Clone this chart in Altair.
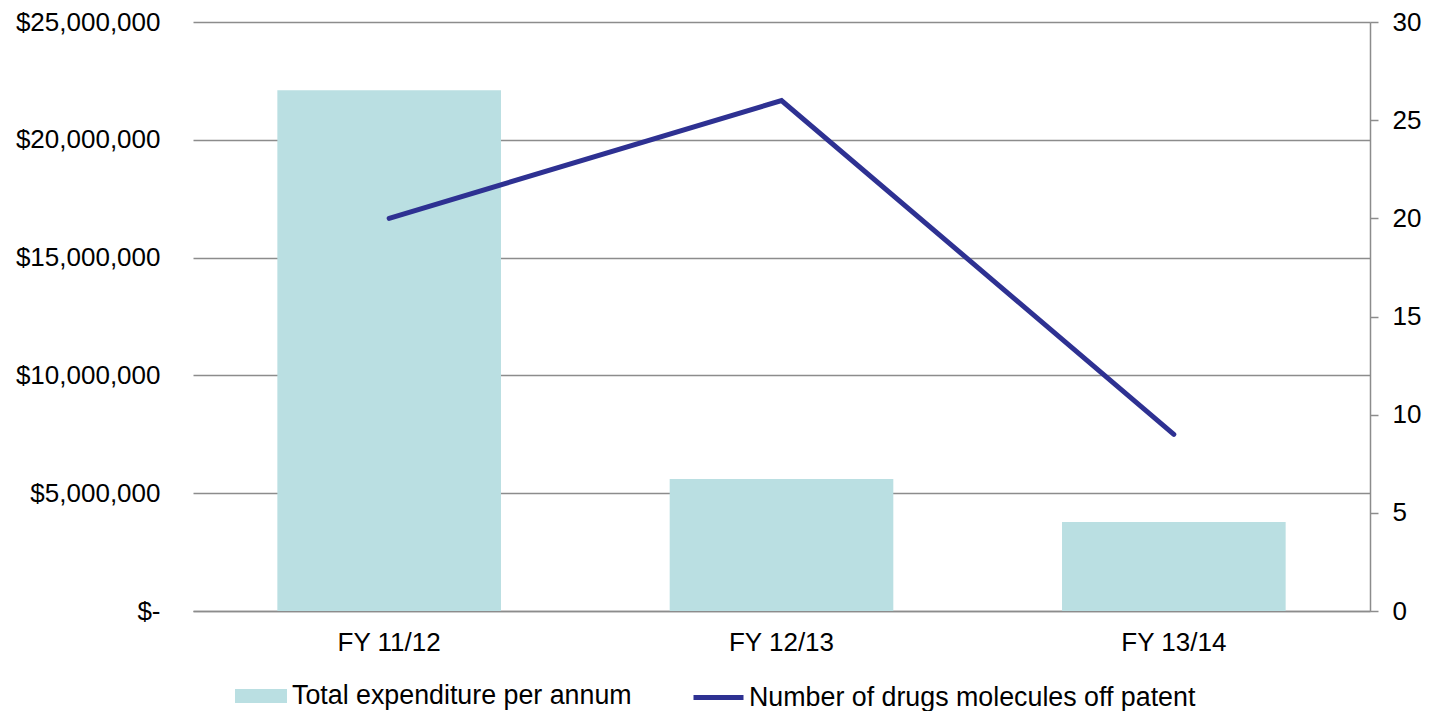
import altair as alt
import pandas as pd

years = ["FY 11/12", "FY 12/13", "FY 13/14"]
expenditure = [22100000, 5600000, 3780000]
molecules = [20, 26, 9]

bar_label = "Total expenditure per annum"
line_label = "Number of drugs molecules off patent"

df = pd.DataFrame({
    "year": years,
    "expenditure": expenditure,
    "molecules": molecules,
    "bar_series": [bar_label] * 3,
    "line_series": [line_label] * 3,
})

FONT = "Liberation Sans"
FS = 26
LEG_FS = 26.8
GRID = "#8c8c8c"
BAR_COLOR = "#badfe2"
LINE_COLOR = "#2e3192"

x_enc = alt.X(
    "year:N",
    sort=years,
    title=None,
    scale=alt.Scale(paddingInner=0.43, paddingOuter=0.215),
    axis=alt.Axis(
        labelAngle=0, ticks=False, domain=True, domainColor=GRID, domainWidth=1.5,
        labelPadding=18, labelFontSize=FS, labelFont=FONT, labelColor="#000000",
        grid=False,
    ),
)

bars = alt.Chart(df).mark_bar(color=BAR_COLOR).encode(
    x=x_enc,
    y=alt.Y(
        "expenditure:Q",
        title=None,
        scale=alt.Scale(domain=[0, 25000000], nice=False),
        axis=alt.Axis(
            values=[0, 5000000, 10000000, 15000000, 20000000, 25000000],
            labelExpr="datum.value == 0 ? '$-' : '$' + format(datum.value, ',')",
            ticks=False, domain=False, grid=True, gridColor=GRID, gridWidth=1.5,
            labelPadding=33, labelFontSize=FS, labelFont=FONT, labelColor="#000000",
        ),
    ),
    fill=alt.Fill(
        "bar_series:N",
        scale=alt.Scale(range=[BAR_COLOR]),
        legend=alt.Legend(
            title=None, orient="none", legendX=42, legendY=648,
            symbolType="M-1,-0.27H1V0.27H-1Z", symbolSize=2704,
            symbolStrokeWidth=0, labelFontSize=LEG_FS, labelFont=FONT,
            labelColor="#000000", labelOffset=5, labelLimit=800,
        ),
    ),
)

line = alt.Chart(df).mark_line(
    color=LINE_COLOR, strokeWidth=5, strokeCap="round", strokeJoin="miter"
).encode(
    x=alt.X("year:N", sort=years),
    y=alt.Y(
        "molecules:Q",
        title=None,
        scale=alt.Scale(domain=[0, 30], nice=False),
        axis=alt.Axis(
            orient="right", values=[0, 5, 10, 15, 20, 25, 30],
            ticks=True, tickSize=8, tickColor=GRID, tickWidth=1.5,
            domain=True, domainColor=GRID, domainWidth=1.5, grid=False,
            labelPadding=14, labelFontSize=FS, labelFont=FONT, labelColor="#000000",
        ),
    ),
    stroke=alt.Stroke(
        "line_series:N",
        scale=alt.Scale(range=[LINE_COLOR]),
        legend=alt.Legend(
            title=None, orient="none", legendX=498, legendY=648,
            symbolType="stroke", symbolSize=2500, symbolStrokeWidth=5,
            labelFontSize=LEG_FS, labelFont=FONT, labelColor="#000000",
            labelOffset=3, labelLimit=800,
        ),
    ),
)

chart = (
    alt.layer(bars, line)
    .resolve_scale(y="independent", fill="independent", stroke="independent")
    .resolve_legend(fill="independent", stroke="independent")
    .properties(
        width=1177,
        height=589,
        autosize=alt.AutoSizeParams(type="none"),
        padding={"left": 193, "top": 22, "right": 63, "bottom": 100},
        background="#ffffff",
    )
    .configure_view(stroke=None)
)

chart.save("out.html", embed_options={"renderer": "svg", "actions": False})
